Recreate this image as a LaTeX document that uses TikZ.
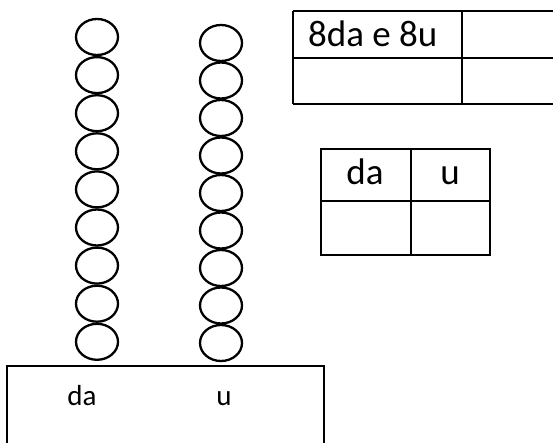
\documentclass[tikz,border=0pt]{standalone}
\usepackage{fontspec}
\setmainfont{Carlito}
\usetikzlibrary{shapes.geometric}
\begin{document}
\begin{tikzpicture}[x=1pt,y=-1pt,line width=2.3pt,
        bead/.style={draw,ellipse,minimum width=42pt,minimum height=36pt,inner sep=0pt},
        cell/.style={font=\fontsize{37}{42}\selectfont,inner sep=0pt},
        lbl/.style={font=\fontsize{29}{33}\selectfont,inner sep=0pt}]
        \useasboundingbox (0,0) rectangle (553,443);

        % beads
        \foreach \i in {1,...,9} {
            \node[bead] (da\i) at (97,{37+38.1*(\i-1)}) {};
            \node[bead] (u\i) at (221,{43+37.5*(\i-1)}) {};
        }

        % base
        \draw (7,443) -- (7,366) -- (324,366) -- (324,443);
        \node[lbl,anchor=base] (baseda) at (82,405) {da};
        \node[lbl,anchor=base] (baseu) at (224,405) {u};

        % top table
        \draw (293,11) -- (553,11);
        \draw (293,58) -- (553,58);
        \draw (293,104) -- (553,104);
        \draw (293,11) -- (293,104);
        \draw (462,11) -- (462,104);
        \node[cell,anchor=base west] (number) at (307,47) {8da e 8u};

        % small table
        \draw (321,149) rectangle (490,255);
        \draw (321,201) -- (490,201);
        \draw (411,149) -- (411,255);
        \node[cell,anchor=base] (headda) at (365,185) {da};
        \node[cell,anchor=base] (headu) at (450,185) {u};
    \end{tikzpicture}
\end{document}
